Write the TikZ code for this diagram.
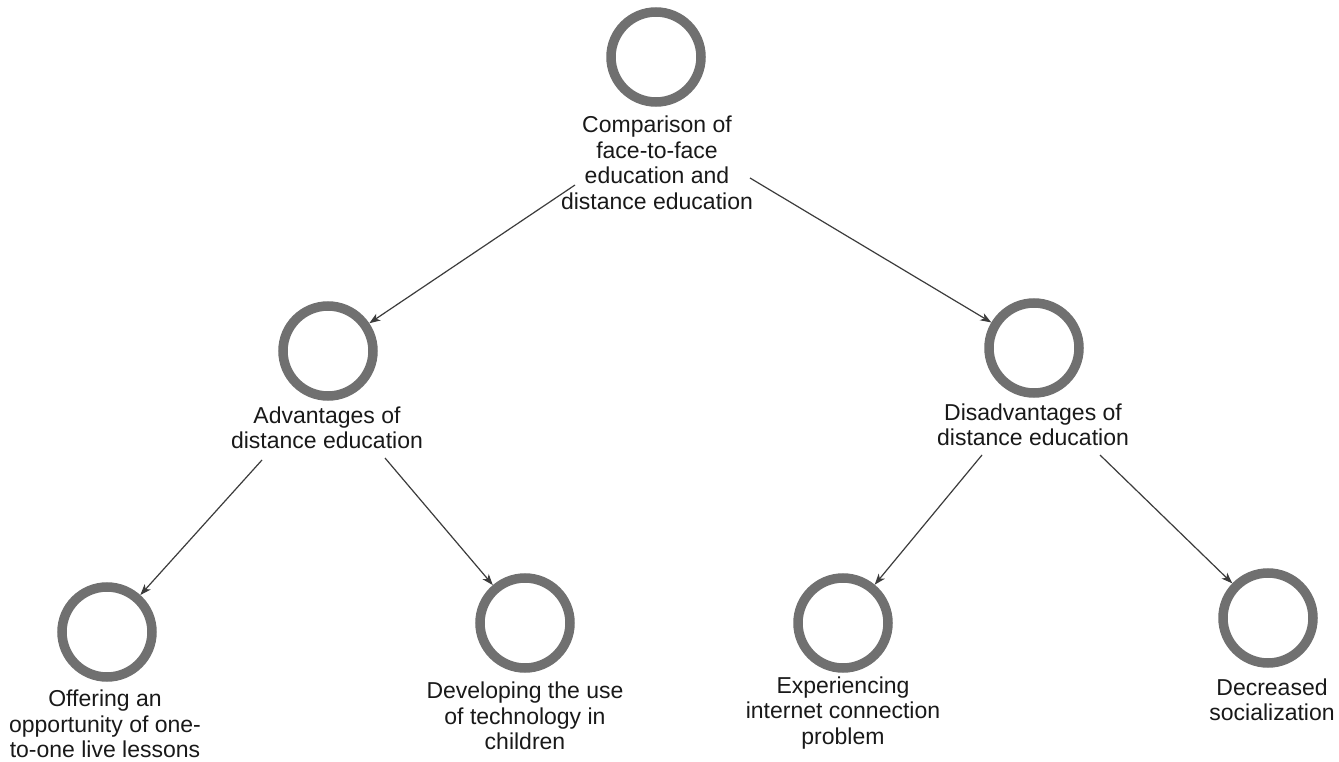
\documentclass[tikz,border=0pt]{standalone}
\usepackage{fontspec}
\setmainfont{Liberation Sans}
\usetikzlibrary{arrows.meta}
\definecolor{ringgray}{RGB}{112,112,112}
\definecolor{linegray}{RGB}{60,60,60}
\definecolor{textblack}{RGB}{25,25,25}
\begin{document}
\begin{tikzpicture}[x=1pt,y=-1pt,
  ringnode/.style={circle,draw=ringgray,line width=9.5pt,minimum size=90pt,inner sep=0pt},
  lbl/.style={align=center,font=\fontsize{23}{25.5}\selectfont,inner sep=0pt,text=textblack},
  arr/.style={draw=linegray,line width=1.2pt,-{Stealth[length=11pt,width=8pt,inset=3pt]}}]
\useasboundingbox[fill=white] (0,0) rectangle (1339,762);
% circles
\node[ringnode] (c0) at (656,57) {};
\node[ringnode] (c1) at (328,351) {};
\node[ringnode] (c2) at (1034,348) {};
\node[ringnode] (c3) at (107,632) {};
\node[ringnode] (c4) at (525,623) {};
\node[ringnode] (c5) at (843,623) {};
\node[ringnode] (c6) at (1268,618) {};
% labels
\node[lbl] (t0) at (657,163) {Comparison of\\face-to-face\\education and\\distance education};
\node[lbl] (t1) at (327,428) {Advantages of\\distance education};
\node[lbl] (t2) at (1033,425) {Disadvantages of\\distance education};
\node[lbl] (t3) at (105,724) {Offering an\\opportunity of one-\\to-one live lessons};
\node[lbl] (t4) at (525,716) {Developing the use\\of technology in\\children};
\node[lbl] (t5) at (843,713) {Experiencing\\internet connection\\problem};
\node[lbl] (t6) at (1272,700) {Decreased\\socialization};
% connectors
\draw[arr] ([shift={(-82,22)}]t0.center) -- (c1);
\draw[arr] ([shift={(93,15)}]t0.center) -- (c2);
\draw[arr] ([shift={(-65,32)}]t1.center) -- (c3);
\draw[arr] ([shift={(58,30)}]t1.center) -- (c4);
\draw[arr] ([shift={(-51,30)}]t2.center) -- (c5);
\draw[arr] ([shift={(67,30)}]t2.center) -- (c6);
\end{tikzpicture}
\end{document}
